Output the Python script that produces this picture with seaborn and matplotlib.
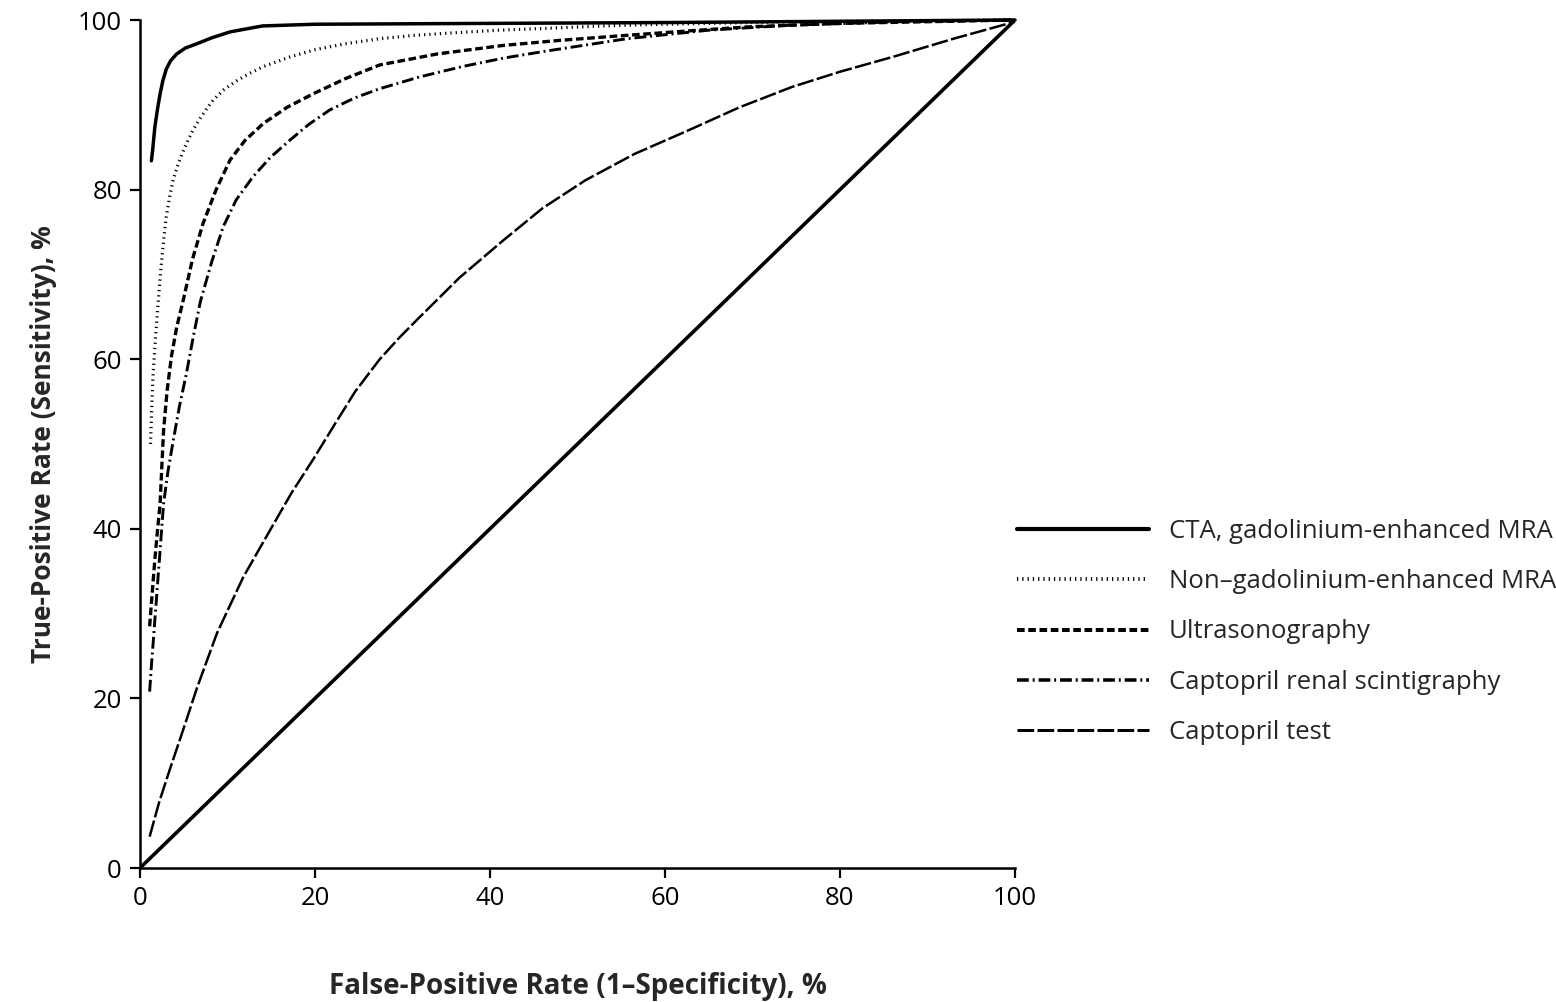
# Kurva ROC: perbandingan uji diagnostik stenosis arteri renal
import pandas as pd
import matplotlib
matplotlib.use('Agg')
import matplotlib.pyplot as plt
import seaborn as sns

# ==========================================
# 1. DATA
# ==========================================
cta_x = [1.3, 1.45, 1.7, 2.0, 2.3, 2.6, 3.0, 3.5, 4.2, 5.2, 6.5, 8.2, 10.3, 14.0, 20.0, 40.0, 60.0, 80.0, 100.0]
cta_y = [83.4, 84.7, 87.4, 89.5, 91.3, 92.8, 94.2, 95.2, 96.0, 96.7, 97.2, 97.9, 98.6, 99.3, 99.5, 99.6, 99.7, 99.85, 100.0]

nongad_x = [1.2, 1.35, 1.5, 1.8, 2.1, 2.4, 2.7, 3.0, 3.4, 3.8, 4.3, 4.8, 5.3, 6.0, 6.8, 7.6, 8.4, 9.6, 11.0, 12.5, 14.1, 17.0, 20.0, 23.5, 27.4, 31.5, 36.0, 41.0, 46.0, 53.0, 60.0, 75.0, 100.0]
nongad_y = [50.0, 54.5, 58.3, 63.0, 67.0, 70.8, 74.0, 76.8, 79.2, 81.2, 82.8, 84.2, 85.4, 86.9, 88.3, 89.5, 90.6, 91.8, 92.8, 93.7, 94.5, 95.6, 96.5, 97.2, 97.8, 98.2, 98.5, 98.8, 99.0, 99.3, 99.5, 99.8, 100.0]

usg_x = [1.1, 1.4, 1.7, 2.0, 2.3, 2.5, 2.7, 3.1, 3.6, 4.2, 4.95, 6.0, 7.2, 8.7, 10.3, 12.0, 14.1, 16.8, 19.8, 23.5, 27.4, 34.0, 41.5, 48.0, 55.7, 62.5, 69.7, 80.0, 100.0]
usg_y = [28.5, 32.5, 36.4, 39.8, 43.0, 47.5, 51.7, 56.3, 60.4, 63.8, 67.0, 71.8, 76.0, 80.0, 83.5, 85.8, 87.8, 89.7, 91.3, 93.1, 94.7, 96.0, 97.0, 97.6, 98.2, 98.7, 99.2, 99.6, 100.0]

scinti_x = [1.1, 1.3, 1.5, 1.7, 1.9, 2.1, 2.3, 2.5, 2.7, 3.2, 3.8, 4.5, 5.3, 6.1, 6.9, 8.2, 9.5, 11.0, 12.9, 14.9, 17.1, 19.3, 21.7, 24.5, 27.4, 32.0, 36.8, 41.5, 46.2, 55.7, 65.0, 74.5, 87.0, 100.0]
scinti_y = [20.8, 23.8, 26.5, 29.3, 32.0, 34.8, 37.5, 40.3, 43.0, 46.8, 50.4, 54.4, 58.3, 62.7, 66.8, 71.5, 75.6, 78.8, 81.5, 83.8, 85.8, 87.7, 89.4, 90.8, 91.9, 93.3, 94.5, 95.5, 96.3, 97.8, 98.8, 99.4, 99.8, 100.0]

captotest_x = [1.1, 2.2, 3.4, 5.0, 6.5, 8.8, 11.8, 14.9, 17.3, 19.8, 22.3, 24.6, 27.4, 29.6, 31.9, 36.5, 41.5, 46.0, 50.9, 56.5, 62.7, 68.5, 74.5, 80.0, 86.2, 93.0, 100.0]
captotest_y = [3.7, 7.8, 11.6, 16.5, 21.2, 27.7, 34.3, 39.9, 44.2, 48.2, 52.4, 56.2, 60.0, 62.5, 64.9, 69.6, 74.0, 77.8, 81.1, 84.2, 87.0, 89.7, 92.1, 93.9, 95.7, 97.8, 99.8]

ref_x = [0, 100]
ref_y = [0, 100]

labels = ['CTA, gadolinium-enhanced MRA',
          'Non\u2013gadolinium-enhanced MRA',
          'Ultrasonography',
          'Captopril renal scintigraphy',
          'Captopril test']

# ==========================================
# 2. GAYA
# ==========================================
sns.set_theme(style='ticks')
plt.rcParams['font.family'] = ['Open Sans', 'DejaVu Sans']
plt.rcParams['lines.scale_dashes'] = False

fig = plt.figure(figsize=(15.56, 10.02), dpi=100)
ax = fig.add_axes([140 / 1556, 134 / 1002, 875 / 1556, 848 / 1002])

gaya = [
    dict(lw=2.5, linestyle='-'),
    dict(lw=2.3, linestyle=(0, (0.9, 2.9))),
    dict(lw=2.4, linestyle=(0, (5.5, 2.6))),
    dict(lw=2.1, linestyle=(0, (8.5, 2.8, 1.4, 2.8))),
    dict(lw=1.8, linestyle=(0, (12.0, 2.4))),
]

seri = [(cta_x, cta_y), (nongad_x, nongad_y), (usg_x, usg_y),
        (scinti_x, scinti_y), (captotest_x, captotest_y)]

handles = []
for (xs, ys), lbl, g in zip(seri, labels, gaya):
    df = pd.DataFrame({'x': xs, 'y': ys})
    sns.lineplot(data=df, x='x', y='y', ax=ax, color='black', estimator=None,
                 clip_on=False, solid_joinstyle='round', **g)
    handles.append(ax.get_lines()[-1])

# garis referensi diagonal
sns.lineplot(x=ref_x, y=ref_y, ax=ax, color='black', lw=2.6, estimator=None)

ax.set_xlim(0, 100)
ax.set_ylim(0, 100)
ax.set_xticks([0, 20, 40, 60, 80, 100])
ax.set_yticks([0, 20, 40, 60, 80, 100])
sns.despine(ax=ax)
for s in ['left', 'bottom']:
    ax.spines[s].set_linewidth(1.8)
    ax.spines[s].set_color('black')
ax.tick_params(axis='both', direction='out', length=7, width=1.6,
               labelsize=18.5, colors='black', pad=6)

ax.set_xlabel('False-Positive Rate (1\u2013Specificity), %', fontsize=20,
              fontweight='bold', labelpad=44)
ax.set_ylabel('True-Positive Rate (Sensitivity), %', fontsize=19,
              fontweight='bold', labelpad=15)

leg = fig.legend(handles, labels, loc='center left',
                 bbox_to_anchor=(1017 / 1556, 1 - 632 / 1002),
                 frameon=False, fontsize=18.5, handlelength=5.15,
                 handletextpad=0.75, labelspacing=0.98,
                 borderpad=0, borderaxespad=0)
for h in leg.get_lines():
    h.set_linewidth(h.get_linewidth() * 1.2)

plt.savefig('out.png', dpi=100)
